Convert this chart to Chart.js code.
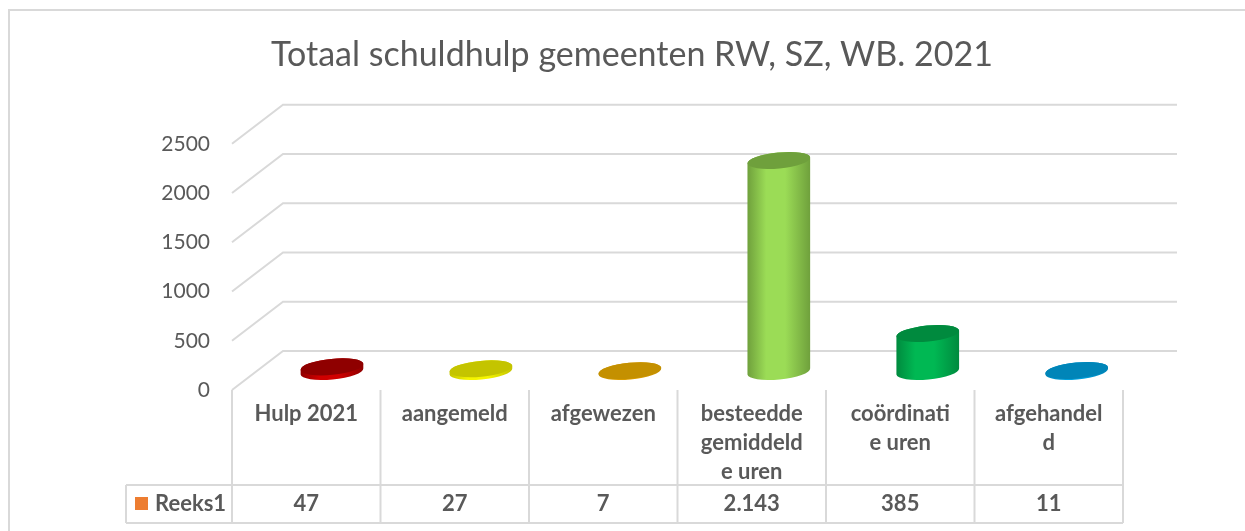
<!DOCTYPE html>
<html lang="en">
<head>
    <meta charset="UTF-8">
    <title>Totaal schuldhulp gemeenten</title>
    <script src="https://cdn.jsdelivr.net/npm/chart.js"></script>
    <style>
        html, body { margin: 0; padding: 0; background: #fff; }
        #wrap { width: 1245px; height: 531px; }
    </style>
</head>
<body>
    <div id="wrap"><canvas id="myChart" width="1245" height="531"></canvas></div>
    <script>
        // Data
        const categories = [
            'Hulp 2021',
            'aangemeld',
            'afgewezen',
            ['besteedde', 'gemiddeld', 'e uren'],
            ['coördinati', 'e uren'],
            ['afgehandel', 'd']
        ];
        const values = [47, 27, 7, 2143, 385, 11];
        const seriesName = 'Reeks1';
        const sideColors = ['#d00000', '#f5f500', '#e0a000', '#9bdc56', '#00b853', '#00a0dc'];
        const topColors = ['#8f0000', '#c4c400', '#c49000', '#6fa03c', '#008a3e', '#0085b8'];

        const gridColor = '#d9d9d9';
        const textColor = '#595959';
        const fontName = 'Lato';
        const depthX = 51, depthY = 39;   // front plane to back wall
        const midSpread = 1.003;          // columns sit slightly wider apart further back
        const floorY = depthY / 2 - 1;    // cylinders stand about halfway into the depth

        const cylinders = {
            id: 'cylinders',
            // back wall, floor and table go under the bars
            beforeDatasetsDraw(chart) {
                const { ctx, chartArea: area, scales: { x, y } } = chart;
                ctx.save();
                ctx.strokeStyle = gridColor;
                ctx.lineWidth = 2;

                // frame, open on the right and at the bottom
                ctx.beginPath();
                ctx.moveTo(9, 531);
                ctx.lineTo(9, 10);
                ctx.lineTo(1245, 10);
                ctx.stroke();

                // gridlines run from front edge to the back wall
                y.ticks.forEach((tick) => {
                    const py = y.getPixelForValue(tick.value);
                    ctx.beginPath();
                    ctx.moveTo(area.left, py);
                    ctx.lineTo(area.left + depthX, py - depthY);
                    ctx.lineTo(area.right + depthX + 3, py - depthY);
                    ctx.stroke();
                });

                // data table
                const colW = (area.right - area.left) / categories.length;
                const rowTop = 485, rowBottom = 523, legendLeft = 126;
                ctx.beginPath();
                for (let i = 0; i <= categories.length; i++) {
                    ctx.moveTo(area.left + i * colW, area.bottom);
                    ctx.lineTo(area.left + i * colW, rowBottom);
                }
                ctx.moveTo(legendLeft, rowTop);
                ctx.lineTo(area.right, rowTop);
                ctx.moveTo(legendLeft, rowBottom);
                ctx.lineTo(area.right, rowBottom);
                ctx.moveTo(legendLeft, rowTop);
                ctx.lineTo(legendLeft, rowBottom);
                ctx.stroke();

                ctx.fillStyle = '#ed7d31';
                ctx.fillRect(135, 497, 13, 13);

                ctx.fillStyle = textColor;
                ctx.font = `bold 22px ${fontName}`;
                ctx.textBaseline = 'middle';
                ctx.textAlign = 'left';
                ctx.fillText(seriesName, 155, 504);
                ctx.textAlign = 'center';
                values.forEach((v, i) => {
                    ctx.fillText(v.toLocaleString('nl-NL'), x.getPixelForValue(i), 504);
                });
                ctx.restore();

                chart.getDatasetMeta(0).data.forEach((bar, i) => {
                    const cx = area.left + (bar.x - area.left) * midSpread + depthX / 2;
                    drawCylinder(ctx, cx, bar.y - floorY, bar.base - floorY,
                        bar.width / 2, sideColors[i], topColors[i]);
                });
                return false;
            }
        };

        function drawCylinder(ctx, cx, topY, baseY, rx, side, top) {
            const ry = 8;
            const rot = -5.5 * Math.PI / 180;
            const grad = ctx.createLinearGradient(cx - rx, 0, cx + rx, 0);
            grad.addColorStop(0, top);
            grad.addColorStop(0.3, side);
            grad.addColorStop(0.6, side);
            grad.addColorStop(1, top);

            ctx.save();
            ctx.fillStyle = grad;
            ctx.beginPath();
            ctx.ellipse(cx, baseY, rx, ry, rot, 0, Math.PI);
            ctx.ellipse(cx, topY, rx, ry, rot, Math.PI, 2 * Math.PI);
            ctx.closePath();
            ctx.fill();

            ctx.fillStyle = top;
            ctx.beginPath();
            ctx.ellipse(cx, topY, rx, ry, rot, 0, 2 * Math.PI);
            ctx.fill();
            ctx.restore();
        }

        const myChart = new Chart(document.getElementById('myChart').getContext('2d'), {
            type: 'bar',
            data: {
                labels: categories,
                datasets: [{
                    label: seriesName,
                    data: values,
                    backgroundColor: sideColors,
                    barPercentage: 0.424,
                    categoryPercentage: 1
                }]
            },
            plugins: [cylinders],
            options: {
                responsive: false,
                animation: false,
                layout: { padding: { left: 141, right: 122, top: 0, bottom: 0 } },
                plugins: {
                    legend: { display: false },
                    tooltip: { enabled: false },
                    title: {
                        display: true,
                        text: 'Totaal schuldhulp gemeenten RW, SZ, WB. 2021',
                        color: textColor,
                        font: { family: fontName, size: 34, weight: 'normal' },
                        padding: { top: 35, bottom: 68 }
                    }
                },
                scales: {
                    x: {
                        grid: { display: false, drawTicks: false },
                        border: { display: false },
                        ticks: {
                            color: textColor,
                            font: { family: fontName, size: 22, weight: 'bold', lineHeight: 1.3 },
                            padding: 10,
                            maxRotation: 0,
                            autoSkip: false
                        },
                        afterFit(scale) { scale.height = 141; }
                    },
                    y: {
                        min: 0,
                        max: 2500,
                        grid: { display: false, drawTicks: false },
                        border: { display: false },
                        ticks: {
                            stepSize: 500,
                            color: textColor,
                            font: { family: fontName, size: 21 },
                            format: { useGrouping: false },
                            padding: 22
                        },
                        afterFit(scale) { scale.width = 91; }
                    }
                }
            }
        });
    </script>
</body>
</html>
